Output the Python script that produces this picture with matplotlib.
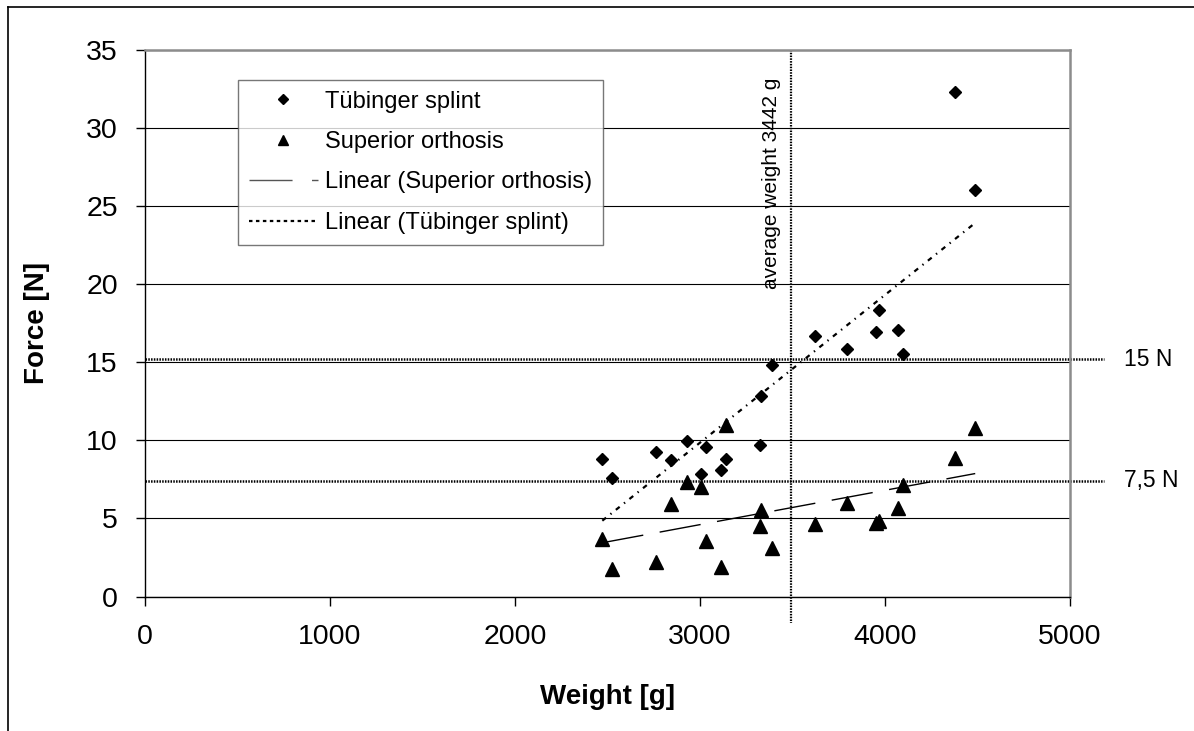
import numpy as np
import matplotlib
matplotlib.use('Agg')
import matplotlib.pyplot as plt
from matplotlib.lines import Line2D

plt.rcParams['font.family'] = ['Liberation Sans', 'DejaVu Sans']
plt.rcParams['lines.scale_dashes'] = False

# data
weight = [2472, 2524, 2764, 2845, 2931, 3003, 3030, 3115, 3142, 3322,
          3331, 3390, 3620, 3793, 3952, 3970, 4069, 4099, 4377, 4488]
tuebinger = [8.79, 7.62, 9.24, 8.75, 9.97, 7.83, 9.60, 8.07, 8.79, 9.71,
             12.81, 14.84, 16.70, 15.88, 16.96, 18.37, 17.08, 15.54, 32.32, 26.06]
superior = [3.67, 1.78, 2.23, 5.95, 7.32, 7.04, 3.58, 1.87, 10.99, 4.52,
            5.54, 3.09, 4.63, 5.97, 4.69, 4.86, 5.65, 7.13, 8.90, 10.76]
avg_line = 3490
limits = [15.2, 7.4]
limit_labels = ['15 N', '7,5 N']

fig = plt.figure(figsize=(11.94, 7.31), dpi=100)
ax = fig.add_axes([0.12144, 0.18399, 0.77466, 0.7476])

ax.set_xlim(0, 5000)
ax.set_ylim(0, 35)
ax.set_xticks(range(0, 5001, 1000))
ax.set_yticks(range(0, 36, 5))
ax.tick_params(labelsize=20.5, length=6.5, width=1, direction='out', color='black')
ax.tick_params(axis='y', pad=13)
ax.tick_params(axis='x', pad=13)
ax.yaxis.grid(True, color='black', linewidth=0.8)
ax.set_axisbelow(True)
for s in ['top', 'right']:
    ax.spines[s].set_color('#8c8c8c')
    ax.spines[s].set_linewidth(1.8)
for s in ['left', 'bottom']:
    ax.spines[s].set_color('black')
    ax.spines[s].set_linewidth(1.0)

# trend lines
x = np.array(weight, dtype=float)
xs = np.array([x.min(), x.max()])
kt = np.polyfit(x, tuebinger, 1)
ks = np.polyfit(x, superior, 1)
ax.plot(xs, np.polyval(ks, xs), color='black', lw=1.0, ls=(0, (30, 12)), zorder=3)
ax.plot(xs, np.polyval(kt, xs), color='black', lw=1.6, ls=(0, (3.5, 4, 1, 4)), zorder=3)

# scatter
ax.plot(weight, tuebinger, ls='none', marker='D', ms=6.2, color='black', zorder=4)
ax.plot(weight, superior, ls='none', marker='^', ms=9.5, color='black', zorder=4)

# reference lines
for yv, lab in zip(limits, limit_labels):
    ax.plot([0, 5185], [yv, yv], color='black', lw=1.8, ls=(0, (1.1, 0.9)), clip_on=False, zorder=2)
    ax.text(5290, yv, lab, fontsize=16.5, va='center', ha='left')
ax.plot([avg_line, avg_line], [35, -1.7], color='black', lw=1.6, ls=(0, (1.1, 0.9)), clip_on=False, zorder=2)
ax.text(3386, 33.2, 'average weight 3442 g', rotation=90, fontsize=15, ha='center', va='top')

ax.set_xlabel('Weight [g]', fontsize=20, fontweight='bold', labelpad=25)
ax.set_ylabel('Force [N]', fontsize=20, fontweight='bold', labelpad=26)

handles = [
    Line2D([], [], ls='none', marker='D', ms=5, color='black'),
    Line2D([], [], ls='none', marker='^', ms=7, color='black'),
    Line2D([], [], color='#555555', lw=1.0, ls=(0, (31, 14))),
    Line2D([], [], color='black', lw=1.6, ls=(0, (2.5, 2.5))),
]
labels = ['Tübinger splint', 'Superior orthosis', 'Linear (Superior orthosis)', 'Linear (Tübinger splint)']
leg = fig.legend(handles, labels, loc='upper left', bbox_to_anchor=(238 / 1194, 1 - 80 / 731),
                 fontsize=17, frameon=True, fancybox=False, edgecolor='#555555',
                 handlelength=2.95, handletextpad=0.3, labelspacing=0.78, borderpad=0.45,
                 borderaxespad=0)
leg.get_frame().set_linewidth(1.0)

# outer frame
fig.add_artist(Line2D([8 / 1194, 8 / 1194], [0, 1 - 7 / 731], transform=fig.transFigure, color='black', lw=1.2))
fig.add_artist(Line2D([8 / 1194, 1], [1 - 7 / 731, 1 - 7 / 731], transform=fig.transFigure, color='black', lw=1.2))

fig.savefig('out.png', dpi=100)
